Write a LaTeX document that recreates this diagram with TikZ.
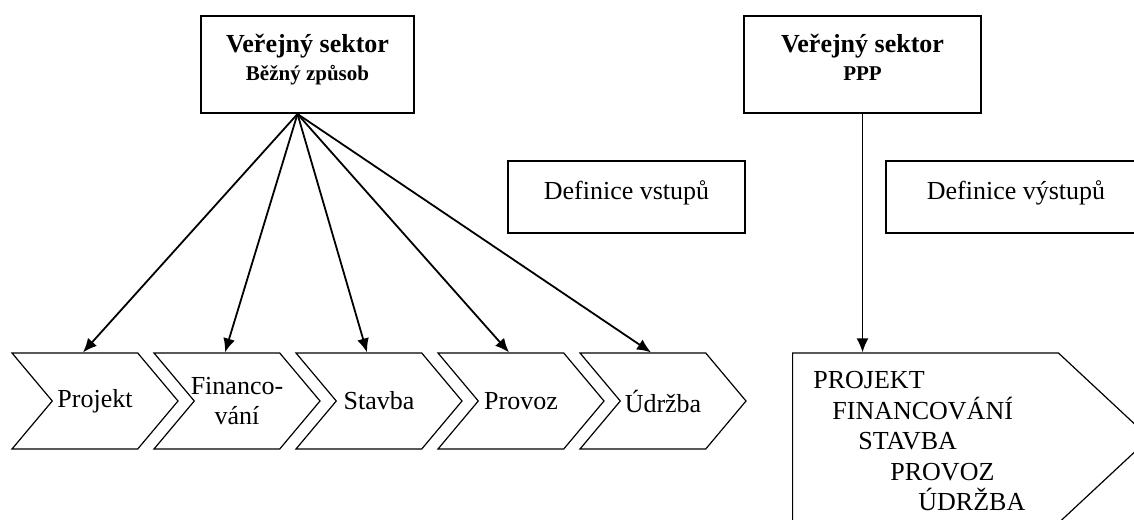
\documentclass[tikz,border=0pt]{standalone}
\usepackage{fontspec}
\setmainfont{Liberation Serif}
\usetikzlibrary{positioning,shapes.symbols,arrows.meta}
\tikzset{%
	sector/.style={
		draw,
		line width=1pt,
		align=center,
		minimum width=106.5pt,
		minimum height=48.5pt,
		text depth=7pt,
		font=\bfseries\fontsize{13}{14}\selectfont
	},
	define/.style={
		draw,
		line width=1pt,
		minimum width=118.5pt,
		minimum height=36pt,
		text depth=7pt,
		font=\fontsize{13}{15}\selectfont
	},
	stepbox/.style={
		signal,
		draw,
		line width=0.6pt,
		signal from=west,
		signal to=east,
		signal pointer angle=100,
		minimum width=83pt,
		minimum height=48pt,
		inner sep=0pt,
		align=center,
		font=\fontsize{13}{15}\selectfont
	},
	chainbox/.style={
		signal,
		draw,
		line width=0.6pt,
		signal to=east,
		signal pointer angle=86,
		minimum width=178.5pt,
		minimum height=85pt,
		inner sep=0pt
	},
}

\begin{document}
\begin{tikzpicture}[x=0.5pt, y=-0.5pt, >={Latex[length=7pt,width=6pt]}]
\useasboundingbox (0,0) rectangle (1134,519);
\clip (0,0) rectangle (1134,519);

% public sector boxes
\node[sector] (sector-std) at (307.5,64.5) {Veřejný sektor\\{\fontsize{10.5}{14}\selectfont Běžný způsob}};
\node[sector, minimum width=118.5pt] (sector-ppp) at (862.5,64.5) {Veřejný sektor\\{\fontsize{10.5}{14}\selectfont PPP}};

% definitions
\node[define] (def-in) at (626.5,197) {Definice vstupů};
\node[define, minimum width=130pt] (def-out) at (1016,197) {Definice výstupů};

% steps, usual way
\foreach \l [count=\i] in {Projekt, {\makebox[0pt]{Financo-}\\\makebox[0pt]{vání}}, Stavba, Provoz, Údržba}
	\node[stepbox] (step-\i) at (\i*142-47,401) {\l};

% steps, PPP
\node[chainbox, anchor=west] (ppp-chain) at (792,438) {};
\node[anchor=north west, align=left, inner sep=0pt, font=\fontsize{13}{15.25}\selectfont] (ppp-steps) at (813,371)
	{PROJEKT\\ \hspace*{9.5pt}FINANCOVÁNÍ\\ \hspace*{22.5pt}STAVBA\\ \hspace*{38.5pt}PROVOZ\\ \hspace*{52.5pt}ÚDRŽBA};

% connections
\coordinate (fan) at ([xshift=-5pt]sector-std.south);
\foreach \i in {1,...,5}
	\draw[->, line width=0.9pt] (fan) -- ([xshift=-6pt]step-\i.north);
\draw[->, line width=0.9pt] (sector-ppp.south) -- (sector-ppp.south |- ppp-chain.north);

\end{tikzpicture}
\end{document}
